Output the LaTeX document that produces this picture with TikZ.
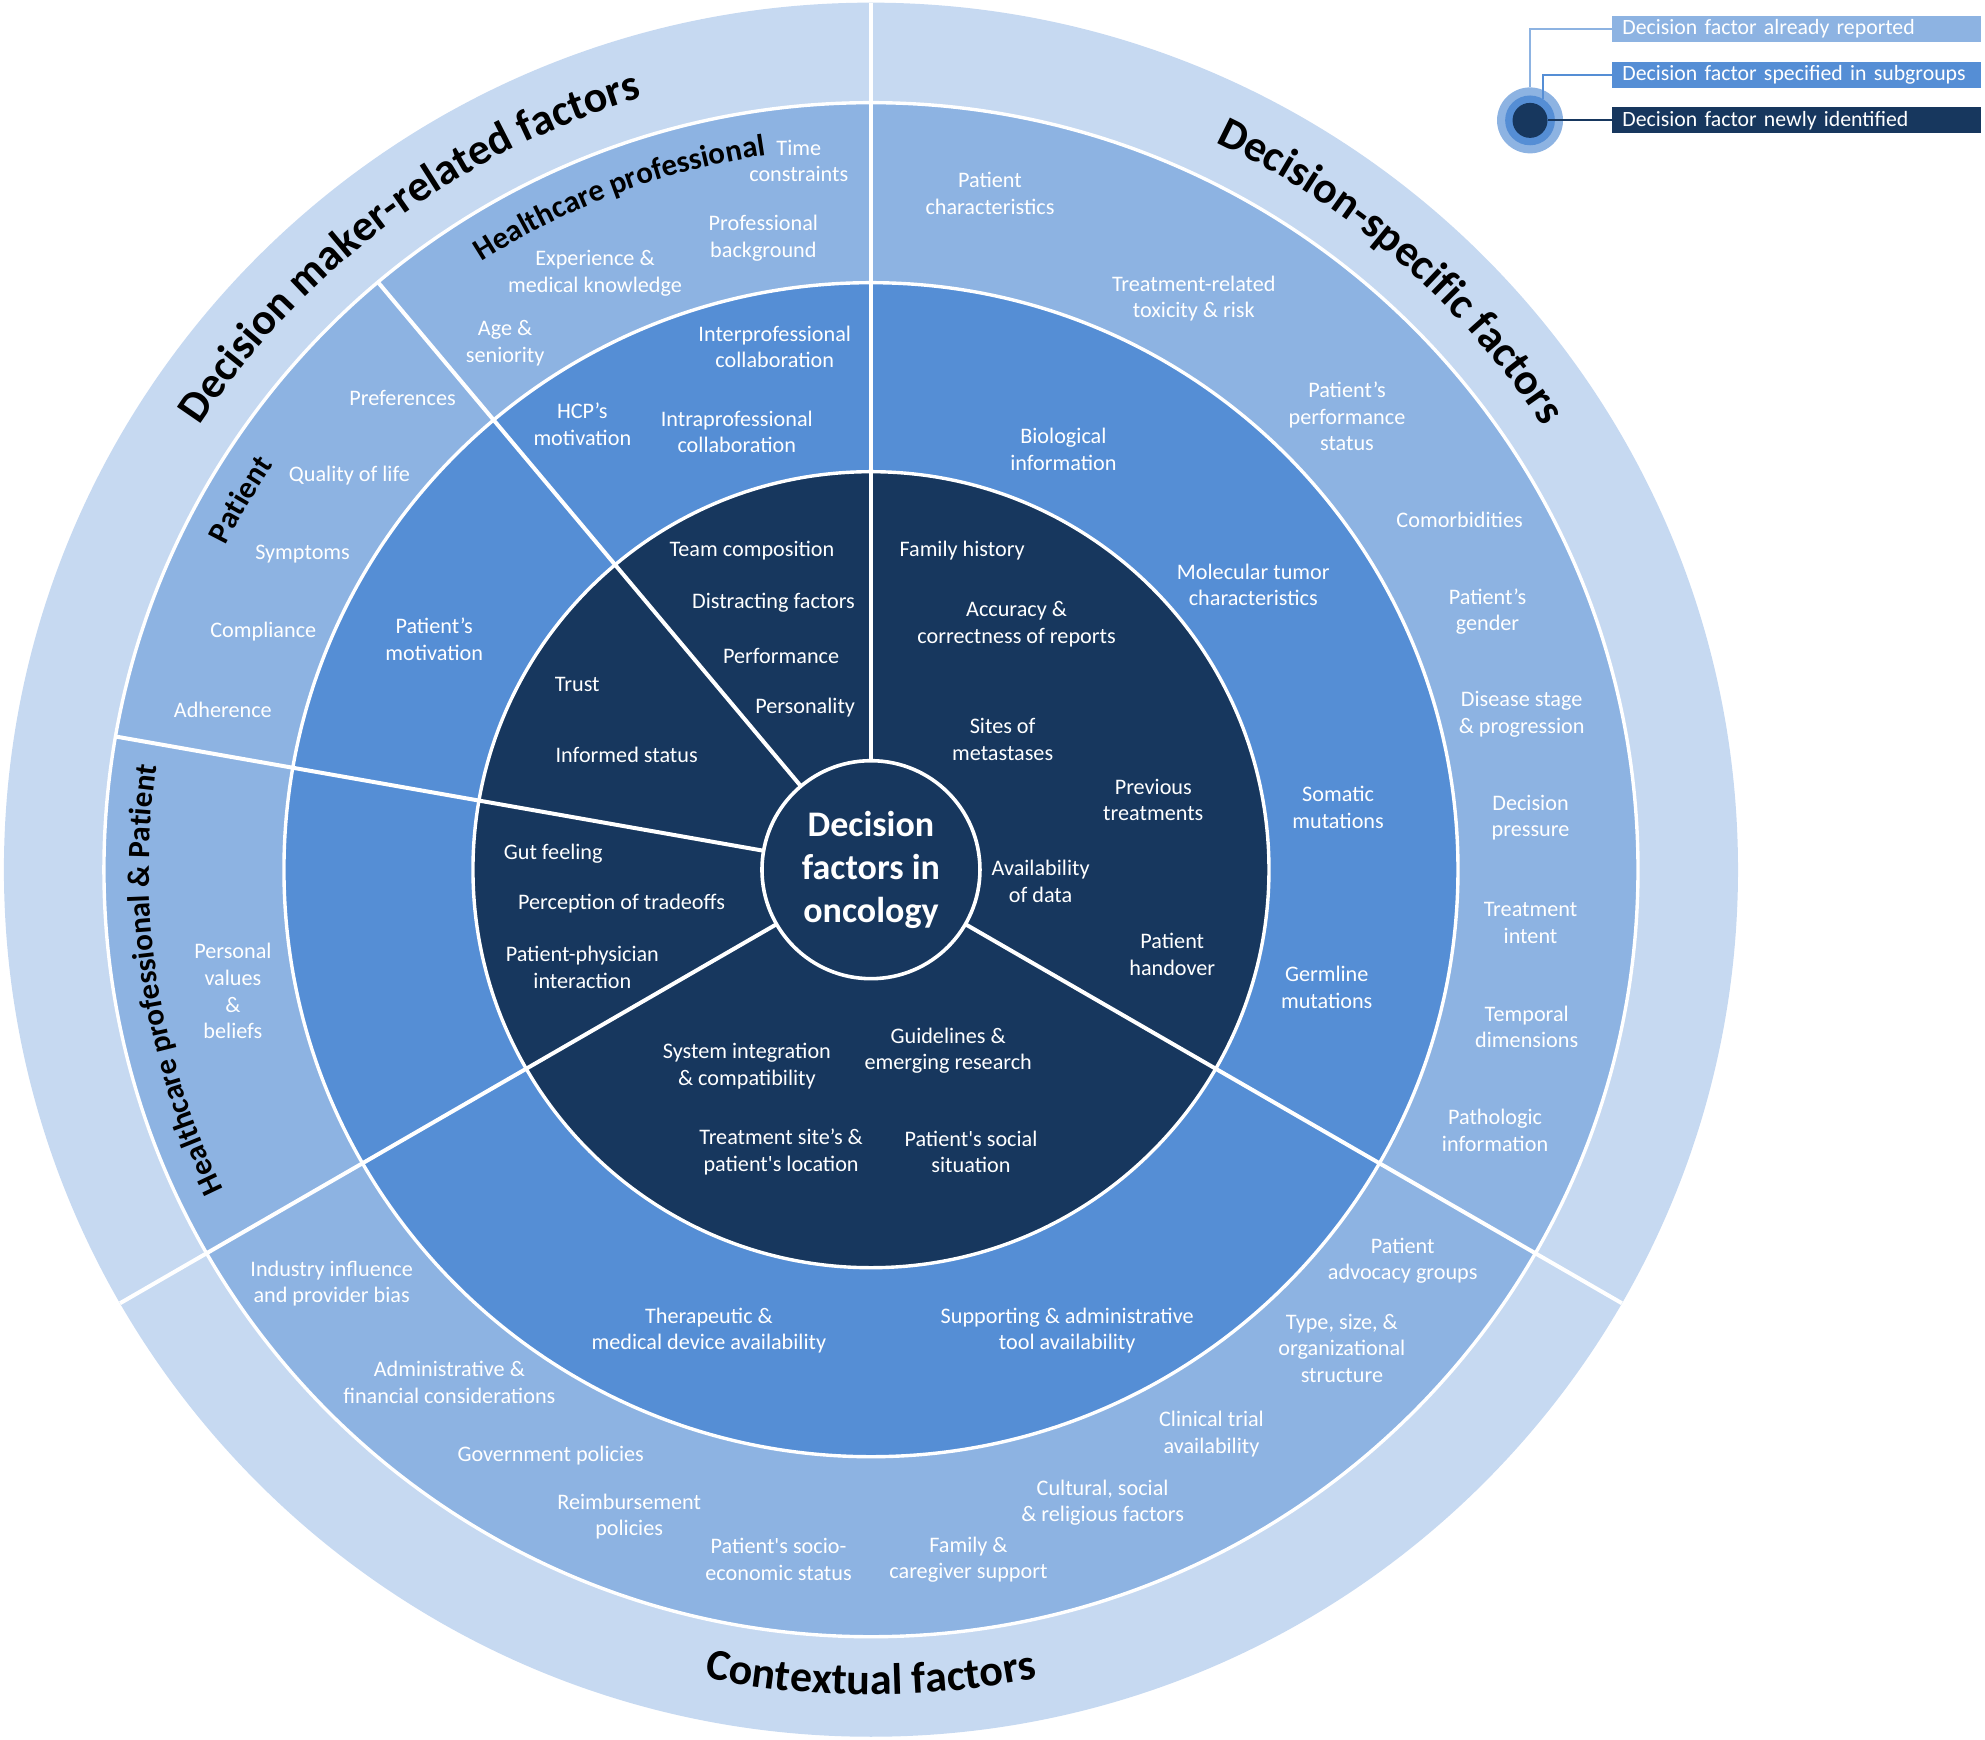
\documentclass[tikz,border=0pt]{standalone}
\usepackage{fontspec}
\setmainfont{Carlito}
\usetikzlibrary{decorations.text}
\definecolor{ringA}{HTML}{C6D9F1}
\definecolor{ringB}{HTML}{8DB3E2}
\definecolor{ringC}{HTML}{558ED5}
\definecolor{ringD}{HTML}{17375E}
\newcommand\lblfont{\fontsize{11.1}{13.3}\selectfont}
\newcommand\legfont{\fontsize{10.9}{13}\selectfont}
\newcommand\headfont{\bfseries\fontsize{22}{26}\selectfont}
\newcommand\subfont{\bfseries\fontsize{15.5}{18}\selectfont}
\newcommand\lbl[4]{\node[lbl] (#1) at (#2,{1374-#3}) {#4};}
\begin{document}
\begin{tikzpicture}[x=0.633pt,y=0.633pt,
  lbl/.style={text=white, align=center, inner sep=0pt, font=\lblfont},
  sep/.style={draw=white, line width=2pt},
  ringline/.style={draw=white, line width=1.7pt},
  legbar/.style={anchor=west, minimum height=13pt, text width=174.5pt, inner xsep=5pt, inner ysep=0pt, align=left, text=white, font=\legfont},
  legdot/.style={circle, inner sep=0pt}
]
\useasboundingbox (0,0) rectangle (1568,1374);
\coordinate (O) at (688,687);
% rings
\fill[ringA] (O) circle (684.9);
\fill[ringB] (O) circle (605.9);
\fill[ringC] (O) circle (463.7);
\fill[ringD] (O) circle (314.4);
\draw[ringline] (O) circle (605.9) (O) circle (463.7) (O) circle (314.4);
% sector separators
\foreach \a/\r in {90/684.9, 130/605.9, 170/605.9, 210/684.9, 330/684.9}
  \draw[sep, shift={(O)}] (\a:86) -- (\a:\r);
% centre
\node[circle, fill=ringD, draw=white, line width=1.8pt, minimum size=109pt, inner sep=0pt,
      text=white, align=center, font=\bfseries\fontsize{18}{21.5}\selectfont] (centre) at (O)
      {Decision\\factors in\\oncology};
% curved headers
\path[shift={(O)}, decorate, decoration={text along path, text align=center, text color=black,
  text={|\headfont|Decision maker-related factors}}] (176.5:635.9) arc[start angle=176.5, end angle=76.5, radius=635.9];
\path[shift={(O)}, decorate, decoration={text along path, text align=center, text color=black,
  text={|\headfont|Decision-specific factors}}] (99:635.9) arc[start angle=99, end angle=-1, radius=635.9];
\path[shift={(O)}, decorate, decoration={text along path, text align=center, text color=black,
  text={|\headfont|Contextual factors}}] (225:651.7) arc[start angle=225, end angle=315, radius=651.7];
\path[shift={(O)}, decorate, decoration={text along path, text align=center, text color=black,
  text={|\subfont|Healthcare professional}}] (145:570.3) arc[start angle=145, end angle=76, radius=570.3];
\path[shift={(O)}, decorate, decoration={text along path, text align=center, text color=black,
  text={|\subfont|Patient}}] (170:570.3) arc[start angle=170, end angle=129.2, radius=570.3];
\path[shift={(O)}, decorate, decoration={text along path, text align=center, text color=black,
  text={|\subfont|Healthcare professional {\&}  Patient}}] (225:570.3) arc[start angle=225, end angle=153, radius=570.3];
% Healthcare professional segment
\lbl{t1}{631}{127}{Time\\constraints}
\lbl{t2}{603}{188}{Professional\\background}
\lbl{t3}{470}{216}{Experience \&\\medical knowledge}
\lbl{t4}{399}{271}{Age \&\\seniority}
\lbl{m1}{612}{274}{Interprofessional\\collaboration}
\lbl{m2}{582}{341}{Intraprofessional\\collaboration}
\lbl{m3}{460}{335}{HCP’s\\motivation}
\lbl{i1}{594}{435}{Team composition}
\lbl{i2}{611}{476}{Distracting factors}
\lbl{i3}{617}{518}{Performance}
\lbl{i4}{636}{559}{Personality}
% Patient segment
\lbl{p1}{318}{314}{Preferences}
\lbl{p2}{276}{376}{Quality of life}
\lbl{p3}{239}{438}{Symptoms}
\lbl{p4}{208}{499}{Compliance}
\lbl{p5}{176}{561}{Adherence}
\lbl{m4}{343}{505}{Patient’s\\motivation}
\lbl{i5}{456}{541}{Trust}
\lbl{i6}{495}{596}{Informed status}
% HCP & Patient segment
\lbl{b1}{184}{783}{Personal\\values\\\&\\beliefs}
\lbl{i7}{437}{674}{Gut feeling}
\lbl{i8}{491}{714}{Perception of tradeoffs}
\lbl{i9}{460}{764}{Patient-physician\\interaction}
% Decision-specific
\lbl{s1}{782}{153}{Patient\\characteristics}
\lbl{s2}{943}{236}{Treatment-related\\toxicity \& risk}
\lbl{s3}{1064}{329}{Patient’s\\performance\\status}
\lbl{s4}{1153}{411}{Comorbidities}
\lbl{s5}{1175}{483}{Patient’s\\gender}
\lbl{s6}{1202}{564}{Disease stage\\\& progression}
\lbl{s7}{1209}{646}{Decision\\pressure}
\lbl{s8}{1209}{729}{Treatment\\intent}
\lbl{s9}{1206}{811}{Temporal\\dimensions}
\lbl{s10}{1181}{893}{Pathologic\\information}
\lbl{s11}{840}{355}{Biological\\information}
\lbl{s12}{990}{462}{Molecular tumor\\characteristics}
\lbl{s13}{1057}{638}{Somatic\\mutations}
\lbl{s14}{1048}{780}{Germline\\mutations}
\lbl{s15}{760}{435}{Family history}
\lbl{s16}{803}{493}{Accuracy \&\\correctness of reports}
\lbl{s17}{792}{584}{Sites of\\metastases}
\lbl{s18}{911}{632}{Previous\\treatments}
\lbl{s19}{822}{696}{Availability\\of data}
\lbl{s20}{926}{754}{Patient\\handover}
% Contextual
\lbl{c1}{590}{842}{System integration\\\& compatibility}
\lbl{c2}{749}{830}{Guidelines \&\\emerging research}
\lbl{c3}{617}{910}{Treatment site’s \&\\patient\textquotesingle s location}
\lbl{c4}{767}{910}{Patient\textquotesingle s social\\situation}
\lbl{c5}{560}{1051}{Therapeutic \&\\medical device availability}
\lbl{c6}{843}{1051}{Supporting \& administrative\\tool availability}
\lbl{c7}{262}{1014}{Industry influence\\and provider bias}
\lbl{c8}{355}{1092}{Administrative \&\\financial considerations}
\lbl{c9}{435}{1150}{Government policies}
\lbl{c10}{497}{1198}{Reimbursement\\policies}
\lbl{c11}{615}{1232}{Patient\textquotesingle s socio-\\economic status}
\lbl{c12}{765}{1232}{Family \&\\caregiver support}
\lbl{c13}{871}{1187}{Cultural, social\\\& religious factors}
\lbl{c14}{957}{1133}{Clinical trial\\availability}
\lbl{c15}{1060}{1065}{Type, size, \&\\organizational\\structure}
\lbl{c16}{1108}{996}{Patient\\advocacy groups}
% legend
\node[legbar, fill=ringB] (leg1) at (1273.4,1351.1) {\mbox{Decision factor already reported}};
\node[legbar, fill=ringC] (leg2) at (1273.4,1314.8) {\mbox{Decision factor specified in subgroups}};
\node[legbar, fill=ringD] (leg3) at (1273.4,1278.9) {\mbox{Decision factor newly identified}};
\node[legdot, fill=ringB, minimum size=33pt] (iconO) at (1208.6,1278.9) {};
\node[legdot, fill=ringC, minimum size=24.9pt] (iconM) at (iconO.center) {};
\node[legdot, fill=ringD, minimum size=17.5pt] (iconI) at (iconO.center) {};
\draw[ringB, line width=1pt] (iconO.north) |- (leg1.west);
\draw[ringC, line width=1pt] (iconM.59) |- (leg2.west);
\draw[ringD, line width=1pt] (iconI.east) -- (leg3.west);
\end{tikzpicture}
\end{document}
